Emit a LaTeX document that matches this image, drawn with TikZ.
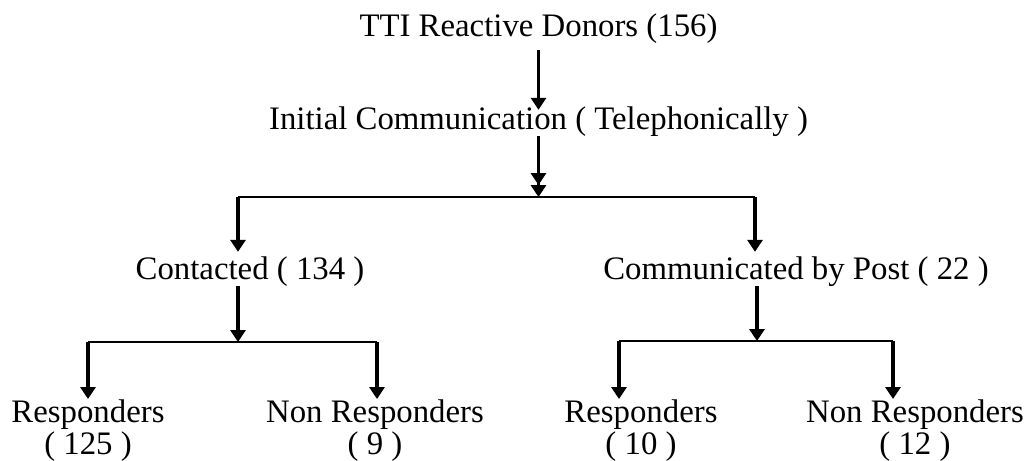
\documentclass[tikz,border=0pt]{standalone}
\usepackage{fontspec}
\setmainfont{Liberation Serif}
\usetikzlibrary{arrows.meta, calc, positioning}
\tikzset{
lbl/.style={inner sep=0pt, font=\fontsize{16.4}{16}\selectfont},
stem/.style={line width=1.6pt, -{Triangle[width=7.5pt,length=6pt]}},
stemtwo/.style={line width=1.6pt, -{Triangle[width=7.5pt,length=6pt]Triangle[width=7.5pt,length=6pt]}},
bar/.style={line width=1pt}
}
\begin{document}
\begin{tikzpicture}[x=0.5pt,y=-0.5pt]
\useasboundingbox (0,0) rectangle (1030,461);
\node[lbl,anchor=base] (donors) at (538.5,36) {TTI Reactive Donors (156)};
\node[lbl,anchor=base] (initial) at (538.5,129) {Initial Communication ( Telephonically )};
\node[lbl,anchor=base] (contacted) at (250,279) {Contacted ( 134 )};
\node[lbl,anchor=base] (post) at (796,279) {Communicated by Post ( 22 )};
\node[lbl,anchor=north,align=center] (resp1) at (88,399) {Responders\\( 125 )};
\node[lbl,anchor=north,align=center] (nonresp1) at (375,399) {Non Responders\\( 9 )};
\node[lbl,anchor=north,align=center] (resp2) at (641,399) {Responders\\( 10 )};
\node[lbl,anchor=north,align=center] (nonresp2) at (915,399) {Non Responders\\( 12 )};

\coordinate (split) at (538.5,197);
\coordinate (splitL) at (238,197);
\coordinate (splitR) at (755,197);
\coordinate (cbar) at (238,342);
\coordinate (cbarL) at (88,342);
\coordinate (cbarR) at (377,342);
\coordinate (pbar) at (757,341);
\coordinate (pbarL) at (619,341);
\coordinate (pbarR) at (893,341);

\draw[stem,shorten <=3.5pt,shorten >=-2pt](donors)--(initial);
\draw[stemtwo](initial)--(split);
\draw[bar](splitL)--(splitR);
\draw[stem,shorten >=2pt](splitL)--(splitL |- contacted.north);
\draw[stem,shorten >=2pt](splitR)--(splitR |- post.north);

\draw[stem](contacted.south -| cbar)--(cbar);
\draw[bar](cbarL)--(cbarR);
\draw[stem](cbarL)--(cbarL |- resp1.north);
\draw[stem](cbarR)--(cbarR |- nonresp1.north);

\draw[stem](post.south -| pbar)--(pbar);
\draw[bar](pbarL)--(pbarR);
\draw[stem](pbarL)--(pbarL |- resp2.north);
\draw[stem](pbarR)--(pbarR |- nonresp2.north);
\end{tikzpicture}
\end{document}
